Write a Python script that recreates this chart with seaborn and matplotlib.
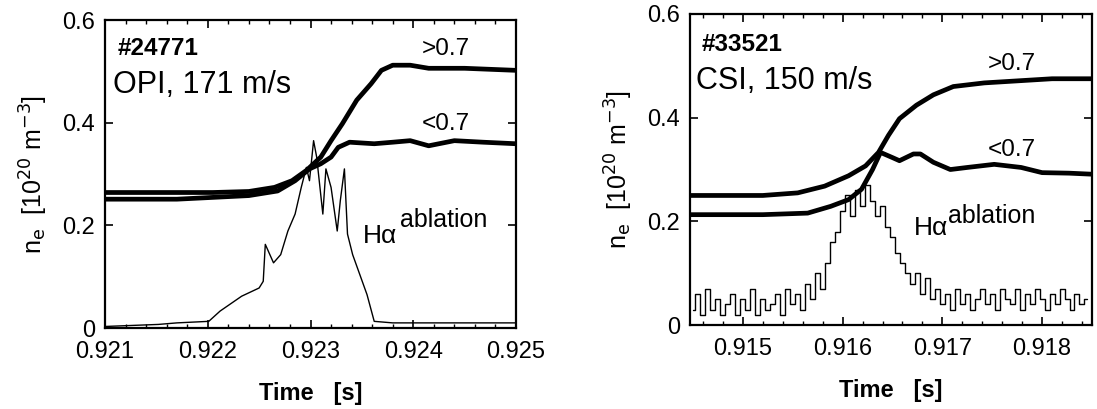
import matplotlib
matplotlib.use("Agg")
import matplotlib.pyplot as plt
import seaborn as sns
import numpy as np

sns.set_style("ticks")
plt.rcParams['font.family'] = ['Liberation Sans', 'DejaVu Sans']
for k in ["text.color", "axes.labelcolor", "xtick.color", "ytick.color", "axes.edgecolor"]:
    plt.rcParams[k] = "black"

# ---------------- Left panel data (#24771, OPI) ----------------
L_t_hi = [0.92100, 0.92205, 0.92240, 0.92265, 0.92282, 0.92296, 0.92310, 0.92320,
          0.92331, 0.92345, 0.92359, 0.92369, 0.92380, 0.92397, 0.92415, 0.92450, 0.92500]
L_ne_hi = [0.264, 0.264, 0.266, 0.274, 0.287, 0.307, 0.333, 0.365,
           0.398, 0.444, 0.476, 0.502, 0.512, 0.512, 0.506, 0.506, 0.502]

L_t_lo = [0.92100, 0.92170, 0.92240, 0.92268, 0.92285, 0.92299, 0.92310, 0.92320,
          0.92327, 0.92338, 0.92362, 0.92380, 0.92397, 0.92415, 0.92440, 0.92468, 0.92500]
L_ne_lo = [0.251, 0.251, 0.258, 0.267, 0.287, 0.310, 0.320, 0.333,
           0.352, 0.362, 0.359, 0.362, 0.365, 0.355, 0.365, 0.362, 0.359]

L_t_ha = [0.92100, 0.92152, 0.92170, 0.92201, 0.92212, 0.92233, 0.92250, 0.92254,
          0.92256, 0.92264, 0.92271, 0.92278, 0.92285, 0.92291, 0.92296, 0.92299,
          0.92303, 0.92306, 0.92312, 0.92315, 0.92320, 0.92326, 0.92329, 0.92333,
          0.92336, 0.92341, 0.92348, 0.92355, 0.92362, 0.92380, 0.92500]
L_ha = [0.003, 0.007, 0.010, 0.013, 0.033, 0.062, 0.078, 0.091,
        0.163, 0.127, 0.143, 0.189, 0.222, 0.274, 0.313, 0.287,
        0.365, 0.333, 0.222, 0.310, 0.274, 0.189, 0.248, 0.310,
        0.183, 0.143, 0.104, 0.065, 0.013, 0.010, 0.010]

# ---------------- Right panel data (#33521, CSI) ----------------
R_t_hi = [0.91448, 0.91520, 0.91555, 0.91582, 0.91606, 0.91623, 0.91636, 0.91646,
          0.91657, 0.91674, 0.91691, 0.91711, 0.91742, 0.91776, 0.91810, 0.91850]
R_ne_hi = [0.250, 0.250, 0.255, 0.268, 0.288, 0.307, 0.333, 0.366,
           0.398, 0.424, 0.444, 0.460, 0.467, 0.471, 0.475, 0.475]

R_t_lo = [0.91448, 0.91520, 0.91565, 0.91588, 0.91606, 0.91619, 0.91630, 0.91638,
          0.91650, 0.91657, 0.91671, 0.91678, 0.91691, 0.91708, 0.91725, 0.91752,
          0.91779, 0.91800, 0.91827, 0.91850]
R_ne_lo = [0.213, 0.213, 0.216, 0.229, 0.242, 0.262, 0.300, 0.333,
           0.323, 0.317, 0.330, 0.330, 0.314, 0.300, 0.304, 0.310,
           0.304, 0.294, 0.293, 0.291]

R_t_ha = [0.91450, 0.91455, 0.91460, 0.91465, 0.91470, 0.91475, 0.91480, 0.91485,
          0.91490, 0.91495, 0.91500, 0.91505, 0.91510, 0.91515, 0.91520, 0.91525,
          0.91530, 0.91535, 0.91540, 0.91545, 0.91550, 0.91555, 0.91560, 0.91565,
          0.91570, 0.91575, 0.91580, 0.91585, 0.91590, 0.91595, 0.91600, 0.91605,
          0.91610, 0.91615, 0.91620, 0.91625, 0.91630, 0.91635, 0.91640, 0.91645,
          0.91650, 0.91655, 0.91660, 0.91665, 0.91670, 0.91675, 0.91680, 0.91685,
          0.91690, 0.91695, 0.91700, 0.91705, 0.91710, 0.91715, 0.91720, 0.91725,
          0.91730, 0.91735, 0.91740, 0.91745, 0.91750, 0.91755, 0.91760, 0.91765,
          0.91770, 0.91775, 0.91780, 0.91785, 0.91790, 0.91795, 0.91800, 0.91805,
          0.91810, 0.91815, 0.91820, 0.91825, 0.91830, 0.91835, 0.91840, 0.91845]
R_ha = [0.03, 0.06, 0.02, 0.07, 0.03, 0.05, 0.02, 0.04,
        0.06, 0.02, 0.05, 0.03, 0.07, 0.02, 0.05, 0.03,
        0.04, 0.06, 0.02, 0.07, 0.04, 0.06, 0.03, 0.08,
        0.05, 0.10, 0.07, 0.12, 0.16, 0.18, 0.22, 0.25,
        0.21, 0.26, 0.23, 0.27, 0.24, 0.21, 0.23, 0.19,
        0.17, 0.14, 0.12, 0.10, 0.08, 0.10, 0.06, 0.09,
        0.05, 0.07, 0.04, 0.06, 0.03, 0.07, 0.04, 0.06,
        0.03, 0.05, 0.07, 0.04, 0.06, 0.03, 0.07, 0.05,
        0.04, 0.07, 0.03, 0.06, 0.04, 0.07, 0.05, 0.03,
        0.06, 0.04, 0.07, 0.05, 0.03, 0.06, 0.04, 0.05]

L_xticks = [0.921, 0.922, 0.923, 0.924, 0.925]
L_xticklabels = ["0.921", "0.922", "0.923", "0.924", "0.925"]
R_xticks = [0.915, 0.916, 0.917, 0.918]
R_xticklabels = ["0.915", "0.916", "0.917", "0.918"]
yticks = [0.0, 0.2, 0.4, 0.6]
yticklabels = ["0", "0.2", "0.4", "0.6"]

fig = plt.figure(figsize=(10.97, 4.09), dpi=100)
axL = fig.add_axes([0.0957, 0.198, 0.3747, 0.753])
axR = fig.add_axes([0.6290, 0.205, 0.3664, 0.761])

thick = 3.4
for ax, (th, yh), (tl, yl), (ta, ya), step in [
    (axL, (L_t_hi, L_ne_hi), (L_t_lo, L_ne_lo), (L_t_ha, L_ha), False),
    (axR, (R_t_hi, R_ne_hi), (R_t_lo, R_ne_lo), (R_t_ha, R_ha), True),
]:
    sns.lineplot(x=th, y=yh, ax=ax, color="black", lw=thick, estimator=None, sort=False)
    sns.lineplot(x=tl, y=yl, ax=ax, color="black", lw=thick, estimator=None, sort=False)
    if step:
        sns.lineplot(x=ta, y=ya, ax=ax, color="black", lw=1.0, estimator=None,
                     sort=False, drawstyle="steps-mid")
    else:
        sns.lineplot(x=ta, y=ya, ax=ax, color="black", lw=1.0, estimator=None, sort=False)

axL.set_xlim(0.921, 0.925)
axR.set_xlim(0.91447, 0.91850)
axL.set_xticks(L_xticks)
axL.set_xticklabels(L_xticklabels)
axR.set_xticks(R_xticks)
axR.set_xticklabels(R_xticklabels)

for ax in (axL, axR):
    ax.set_ylim(0, 0.6)
    ax.set_yticks(yticks)
    ax.set_yticklabels(yticklabels)
    ax.xaxis.set_minor_locator(matplotlib.ticker.MultipleLocator(0.0002))
    ax.tick_params(axis="both", which="major", direction="in", length=6, width=1.2,
                   labelsize=17, top=True, right=True)
    ax.tick_params(axis="x", which="major", pad=9)
    ax.tick_params(axis="y", which="major", pad=7)
    ax.tick_params(axis="x", which="minor", direction="in", length=3, width=1.0,
                   top=True, bottom=True)
    for s in ax.spines.values():
        s.set_linewidth(1.6)
        s.set_color("black")
        s.set_visible(True)
    ax.set_xlabel("Time   [s]", fontsize=17, fontweight="bold", labelpad=14)
    ax.set_ylabel(r"n$_{\rm e}$  [10$^{20}$ m$^{-3}$]", fontsize=18, labelpad=9)
    ax.grid(False)

# Left annotations
axL.text(0.92112, 0.532, "#24771", fontsize=17.5, fontweight="bold")
axL.text(0.92108, 0.458, "OPI, 171 m/s", fontsize=22)
axL.text(0.92408, 0.532, ">0.7", fontsize=17.5)
axL.text(0.92408, 0.386, "<0.7", fontsize=17.5)
axL.text(0.92351, 0.166, "H\u03b1", fontsize=19)
axL.text(0.92387, 0.197, "ablation", fontsize=18)

# Right annotations
axR.text(0.91459, 0.528, "#33521", fontsize=17.5, fontweight="bold")
axR.text(0.91453, 0.455, "CSI, 150 m/s", fontsize=22)
axR.text(0.91746, 0.492, ">0.7", fontsize=17.5)
axR.text(0.91746, 0.327, "<0.7", fontsize=17.5)
axR.text(0.91671, 0.174, "H\u03b1", fontsize=19)
axR.text(0.91706, 0.197, "ablation", fontsize=18)

fig.savefig("out.png", dpi=100)
